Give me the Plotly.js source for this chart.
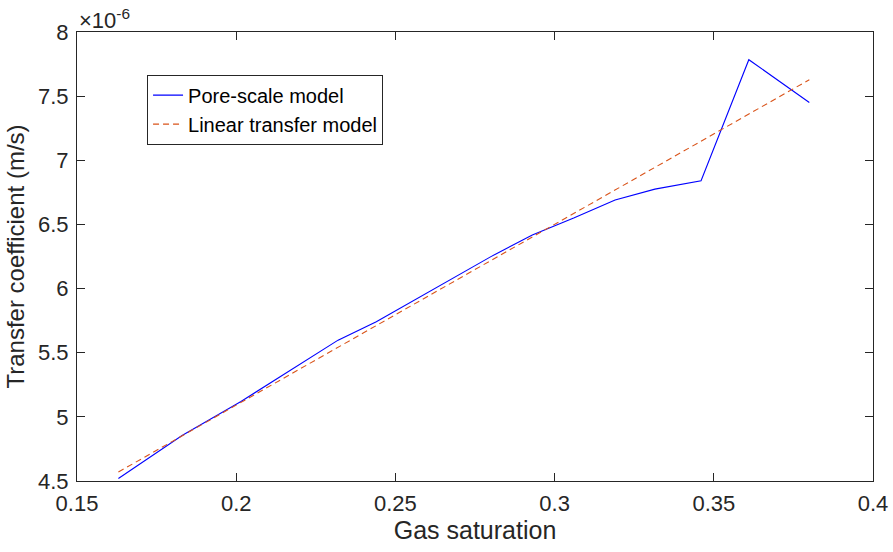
<!DOCTYPE html>
<html>
<head>
<meta charset="utf-8">
<script src="https://cdn.plot.ly/plotly-3.0.1.min.js"></script>
<style>html,body{margin:0;padding:0;background:#fff;}#chart{width:893px;height:552px;}</style>
</head>
<body>
<div id="chart"></div>
<script>
// Gas saturation values
const gasSaturation = [0.163, 0.183, 0.2015, 0.2175, 0.232, 0.244, 0.262, 0.280, 0.293, 0.306, 0.319, 0.3315, 0.346, 0.361, 0.380];
// Pore-scale model transfer coefficient (units of 1e-6 m/s)
const poreScale = [4.519, 4.855, 5.12, 5.37, 5.598, 5.741, 5.995, 6.249, 6.418, 6.55, 6.691, 6.775, 6.840, 7.784, 7.451];
// Linear transfer model (units of 1e-6 m/s)
const linearX = [0.163, 0.380];
const linearModel = [4.570, 7.628];
const xTicks = [0.15, 0.2, 0.25, 0.3, 0.35, 0.4];
const yTicks = [4.5, 5, 5.5, 6, 6.5, 7, 7.5, 8];

const fontFam = 'Liberation Sans, Arial, Helvetica, sans-serif';
const axisColor = '#262626';

const traces = [
  {x: gasSaturation, y: poreScale, type: 'scatter', mode: 'lines', name: 'Pore-scale model',
   line: {color: '#0000ff', width: 1.1}},
  {x: linearX, y: linearModel, type: 'scatter', mode: 'lines', name: 'Linear transfer model',
   line: {color: '#d95319', width: 1.1, dash: '6px,4px'}}
];

const axisCommon = {
  showline: true, linecolor: axisColor, linewidth: 1, mirror: 'ticks',
  ticks: 'inside', ticklen: 8, tickcolor: axisColor, tickwidth: 1,
  showgrid: false, zeroline: false,
  tickfont: {family: fontFam, size: 22, color: axisColor}
};

const layout = {
  width: 893, height: 552,
  margin: {l: 77, r: 20, t: 32, b: 71},
  paper_bgcolor: '#fff', plot_bgcolor: '#fff',
  showlegend: true,
  xaxis: Object.assign({}, axisCommon, {
    range: [0.15, 0.4], tickvals: xTicks, ticktext: xTicks.map(String),
    ticklabelstandoff: 3,
    title: {text: 'Gas saturation', font: {family: fontFam, size: 25, color: axisColor}, standoff: 4}
  }),
  yaxis: Object.assign({}, axisCommon, {
    range: [4.5, 8], tickvals: yTicks, ticktext: yTicks.map(String),
    ticklabelstandoff: 3,
    title: {text: 'Transfer coefficient (m/s)', font: {family: fontFam, size: 24, color: axisColor}, standoff: 6}
  }),
  legend: {
    x: 0.088, y: 0.905, xanchor: 'left', yanchor: 'top',
    bgcolor: '#fff', bordercolor: axisColor, borderwidth: 1,
    font: {family: fontFam, size: 20, color: '#000'},
    tracegroupgap: 0, itemwidth: 30
  },
  annotations: [{
    xref: 'paper', yref: 'paper', x: 0, y: 1, xanchor: 'left', yanchor: 'bottom',
    text: '×10<sup>-6</sup>', showarrow: false, xshift: 0, yshift: -3,
    font: {family: fontFam, size: 22, color: axisColor}
  }]
};

Plotly.newPlot('chart', traces, layout, {displayModeBar: false, staticPlot: true});
</script>
</body>
</html>
